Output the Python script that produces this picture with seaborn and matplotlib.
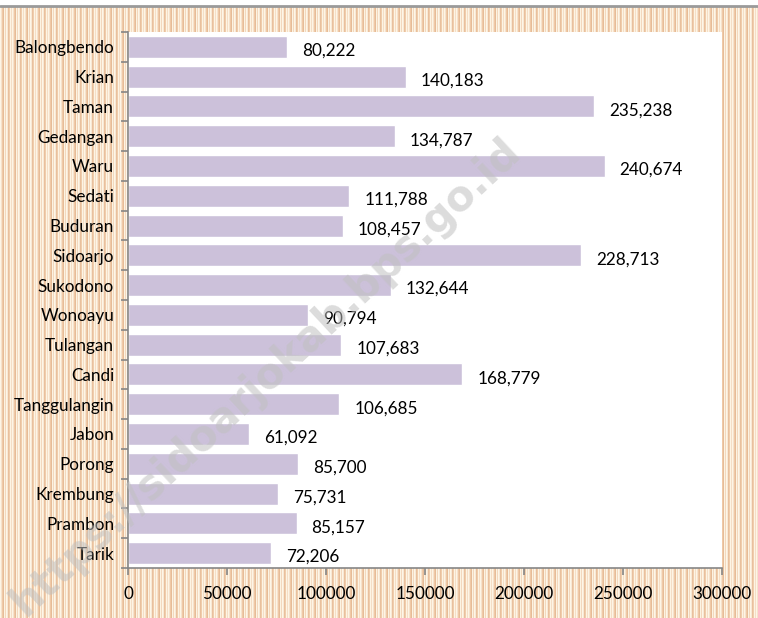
import numpy as np
import pandas as pd
import matplotlib
matplotlib.use("Agg")
import matplotlib.pyplot as plt
import seaborn as sns
from matplotlib.lines import Line2D

# ------------------------------------------------------------------
# Data
# ------------------------------------------------------------------
districts = ["Balongbendo", "Krian", "Taman", "Gedangan", "Waru", "Sedati",
             "Buduran", "Sidoarjo", "Sukodono", "Wonoayu", "Tulangan", "Candi",
             "Tanggulangin", "Jabon", "Porong", "Krembung", "Prambon", "Tarik"]
values = [80222, 140183, 235238, 134787, 240674, 111788,
          108457, 228713, 132644, 90794, 107683, 168779,
          106685, 61092, 85700, 75731, 85157, 72206]
x_ticks = [0, 50000, 100000, 150000, 200000, 250000, 300000]
watermark = "https://sidoarjokab.bps.go.id"

BAR_COLOR = "#ccc1da"
AXIS_COLOR = "#868686"
FS = 12.3

df = pd.DataFrame({"district": districts, "value": values})

sns.set_theme(style="white")
plt.rcParams["font.family"] = ["Lato", "DejaVu Sans"]

fig = plt.figure(figsize=(7.58, 6.18), dpi=100)
fig.patch.set_facecolor("white")

# striped page background (decoration)
bg = fig.add_axes([0, 0, 1, 1 - 7 / 618], zorder=-10)
stripe_cols = np.array([
    [253, 245, 230], [246, 226, 204], [239, 201, 167], [230, 188, 152],
    [252, 243, 226], [243, 216, 190], [253, 246, 232], [248, 232, 212],
    [232, 192, 158], [240, 205, 172], [253, 244, 228], [245, 222, 198],
]) / 255.0
pattern = np.tile(stripe_cols, (int(np.ceil(758 / len(stripe_cols))), 1))[:758]
bg.imshow(pattern[np.newaxis, :, :], aspect="auto", interpolation="nearest")
bg.set_axis_off()

# thin grey rule at the very top
fig.add_artist(Line2D([0, 1], [1 - 5.5 / 618, 1 - 5.5 / 618],
                      transform=fig.transFigure, color="#9a9a9a", lw=2))

ax = fig.add_axes([128 / 758, 1 - 568 / 618, (722 - 128) / 758, (568 - 32) / 618])
ax.set_facecolor("white")

sns.barplot(data=df, x="value", y="district", orient="h", color=BAR_COLOR,
            saturation=1, width=0.74, ax=ax)

ax.set_xlim(0, 300000)
ax.set_ylim(len(districts) - 0.5, -0.5)
ax.set_xlabel("")
ax.set_ylabel("")

# data labels
for i, v in enumerate(values):
    ax.annotate(f"{v:,}", xy=(v, i), xytext=(15, -4), textcoords="offset pixels",
                ha="left", va="center", fontsize=FS, color="black")

# axes styling
for side in ["top", "right"]:
    ax.spines[side].set_visible(False)
for side in ["left", "bottom"]:
    ax.spines[side].set_color(AXIS_COLOR)
    ax.spines[side].set_linewidth(1.2)

ax.set_xticks(x_ticks)
ax.set_xticklabels([str(t) for t in x_ticks])
ax.tick_params(axis="x", bottom=True, length=5, width=1.2, color=AXIS_COLOR,
               labelsize=FS, pad=8, labelcolor="black")
ax.tick_params(axis="y", left=False, labelsize=FS, pad=4, labelcolor="black")
ax.set_yticks(np.arange(-0.5, len(districts), 1.0), minor=True)
ax.tick_params(axis="y", which="minor", left=True, length=5, width=1.2,
               color=AXIS_COLOR)
ax.grid(False)

# watermark
fig.text(0.35, 0.39, watermark, rotation=43, ha="center", va="center",
         fontsize=30, fontweight="bold", color="#c0c0c0", alpha=0.55,
         family=["DejaVu Sans"], zorder=20)

plt.savefig("out.png", dpi=100)
plt.close()
